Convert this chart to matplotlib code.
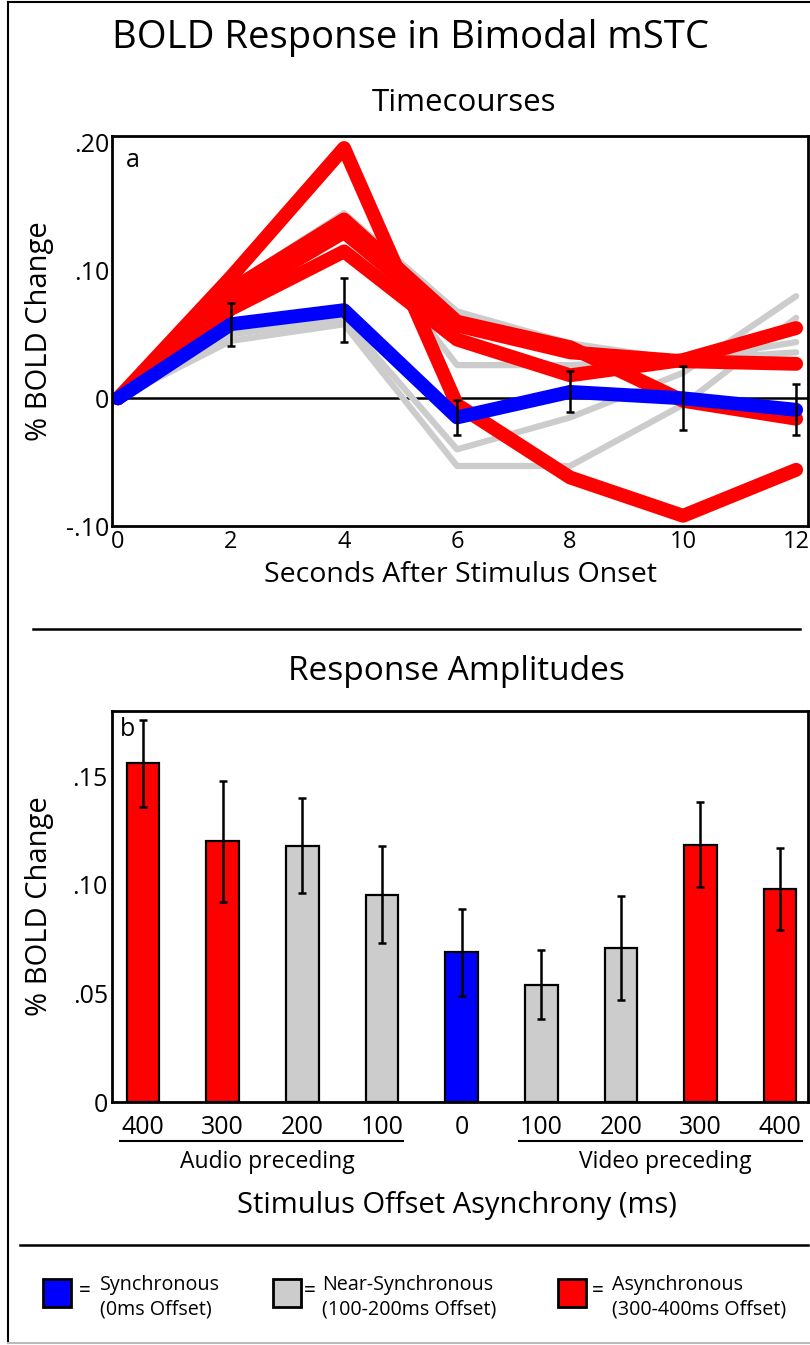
import matplotlib.pyplot as plt
import numpy as np

plt.rcParams['font.family'] = ['Open Sans', 'DejaVu Sans']

W, H = 810, 1345

# timecourse data (% BOLD change at each time point)
seconds = [0, 2, 4, 6, 8, 10, 12]
sync_tc = [0, 0.058, 0.069, -0.015, 0.005, 0.0, -0.009]
sync_err = [0, 0.017, 0.025, 0.014, 0.016, 0.025, 0.020]
near_tc = [
    [0, 0.088, 0.145, 0.068, 0.043, 0.030, 0.036],
    [0, 0.085, 0.140, 0.026, 0.026, 0.030, 0.044],
    [0, 0.050, 0.062, -0.040, -0.015, 0.020, 0.080],
    [0, 0.045, 0.058, -0.053, -0.053, -0.005, 0.063],
]
async_tc = [
    [0, 0.095, 0.196, -0.005, -0.062, -0.092, -0.056],
    [0, 0.085, 0.140, 0.060, 0.040, -0.002, -0.016],
    [0, 0.078, 0.130, 0.057, 0.036, 0.029, 0.027],
    [0, 0.070, 0.115, 0.046, 0.018, 0.030, 0.055],
]

# response amplitudes
offsets = ['400', '300', '200', '100', '0', '100', '200', '300', '400']
amps = [0.156, 0.120, 0.118, 0.0955, 0.069, 0.054, 0.071, 0.1185, 0.098]
amp_err = [0.020, 0.028, 0.022, 0.0225, 0.020, 0.016, 0.024, 0.0195, 0.019]
groups = ['async', 'async', 'near', 'near', 'sync', 'near', 'near', 'async', 'async']

colors = {'sync': '#0000ff', 'near': '#cccccc', 'async': '#ff0000'}


def fx(px):
    return px / W


def fy(py):
    return 1 - py / H


def box(l, t, r, b):
    return [fx(l), fy(b), fx(r) - fx(l), fy(t) - fy(b)]


fig = plt.figure(figsize=(W / 100, H / 100), dpi=100)

# outer frame
fig.add_artist(plt.Line2D([fx(8), fx(8)], [fy(2), fy(1343)], color='black', lw=1.5))
fig.add_artist(plt.Line2D([fx(8), fx(810)], [fy(2), fy(2)], color='black', lw=1.5))
fig.add_artist(plt.Line2D([fx(8), fx(810)], [fy(1343), fy(1343)], color='#bbbbbb', lw=1.5))

fig.text(fx(411), fy(38), 'BOLD Response in Bimodal mSTC', ha='center', va='center', fontsize=27.5)
fig.text(fx(464), fy(103), 'Timecourses', ha='center', va='center', fontsize=22.5)

# ---- panel a
ax1 = fig.add_axes(box(112, 136, 808, 526))
for tc in near_tc:
    ax1.plot(seconds, tc, color=colors['near'], lw=4.5, solid_joinstyle='round', solid_capstyle='round')
for tc in async_tc:
    ax1.plot(seconds, tc, color=colors['async'], lw=10, solid_joinstyle='round', solid_capstyle='round')
ax1.axhline(0, color='black', lw=1.8, zorder=1.5)
ax1.plot(seconds, sync_tc, color=colors['sync'], lw=10, solid_joinstyle='round', solid_capstyle='round')
ax1.errorbar(seconds[1:], sync_tc[1:], yerr=sync_err[1:], fmt='none', ecolor='black',
             elinewidth=1.8, capsize=3, capthick=1.8)
ax1.set_xlim(-0.106, 12.21)
ax1.set_ylim(-0.0969, 0.2054)
ax1.set_xticks(seconds)
ax1.set_yticks([-0.10, 0, 0.10, 0.20])
ax1.set_yticklabels(['-.10', '0', '.10', '.20'])
ax1.tick_params(length=0, labelsize=18)
ax1.tick_params(axis='y', pad=2)
ax1.tick_params(axis='x', pad=3, labelsize=17)
for s in ax1.spines.values():
    s.set_linewidth(2)
ax1.text(0.02, 0.97, 'a', transform=ax1.transAxes, ha='left', va='top', fontsize=18)
ax1.set_xlabel('Seconds After Stimulus Onset', fontsize=20.5, labelpad=5)
ax1.set_ylabel('% BOLD Change', fontsize=21)
ax1.yaxis.set_label_coords(-0.083, 0.5)

fig.add_artist(plt.Line2D([fx(33), fx(800)], [fy(629), fy(629)], color='black', lw=1.8))
fig.text(fx(456), fy(672), 'Response Amplitudes', ha='center', va='center', fontsize=24)

# ---- panel b
ax2 = fig.add_axes(box(112, 711, 808, 1102))
pos = np.arange(len(amps))
ax2.bar(pos, amps, width=0.41, color=[colors[g] for g in groups], edgecolor='black', linewidth=1.6)
ax2.errorbar(pos, amps, yerr=amp_err, fmt='none', ecolor='black', elinewidth=1.8, capsize=3, capthick=1.8)
ax2.set_xlim(-0.39, 8.35)
ax2.set_ylim(0, 0.18)
ax2.set_xticks(pos)
ax2.set_xticklabels(offsets)
ax2.set_yticks([0, 0.05, 0.10, 0.15])
ax2.set_yticklabels(['0', '.05', '.10', '.15'])
ax2.tick_params(length=0, labelsize=18)
ax2.tick_params(axis='y', pad=3)
ax2.tick_params(axis='x', pad=9)
for s in ax2.spines.values():
    s.set_linewidth(2)
ax2.text(0.012, 0.985, 'b', transform=ax2.transAxes, ha='left', va='top', fontsize=18)
ax2.set_ylabel('% BOLD Change', fontsize=21)
ax2.yaxis.set_label_coords(-0.083, 0.5)

fig.add_artist(plt.Line2D([fx(120), fx(403)], [fy(1141), fy(1141)], color='black', lw=1.5))
fig.add_artist(plt.Line2D([fx(519), fx(802)], [fy(1141), fy(1141)], color='black', lw=1.5))
fig.text(fx(267), fy(1162), 'Audio preceding', ha='center', va='center', fontsize=16.5)
fig.text(fx(665), fy(1162), 'Video preceding', ha='center', va='center', fontsize=16.5)
fig.text(fx(457), fy(1205), 'Stimulus Offset Asynchrony (ms)', ha='center', va='center', fontsize=21)

fig.add_artist(plt.Line2D([fx(20), fx(808)], [fy(1245), fy(1245)], color='black', lw=1.8))

# legend: (group, square left, "=" centre, text left, lines)
legend_items = [
    ('sync', 43, 85, 100, 'Synchronous', '(0ms Offset)'),
    ('near', 273, 310, 322, 'Near-Synchronous', '(100-200ms Offset)'),
    ('async', 558, 598, 612, 'Asynchronous', '(300-400ms Offset)'),
]
for key, x0, xe, xt, line1, line2 in legend_items:
    fig.add_artist(plt.Rectangle((fx(x0), fy(1307)), fx(28), fy(1279) - fy(1307),
                                 facecolor=colors[key], edgecolor='black', lw=2))
    fig.text(fx(xe), fy(1292), '=', ha='center', va='center', fontsize=15)
    fig.text(fx(xt), fy(1285), line1, ha='left', va='center', fontsize=14.2)
    fig.text(fx(xt), fy(1310), line2, ha='left', va='center', fontsize=14.2)

fig.savefig('out.png', dpi=100)
